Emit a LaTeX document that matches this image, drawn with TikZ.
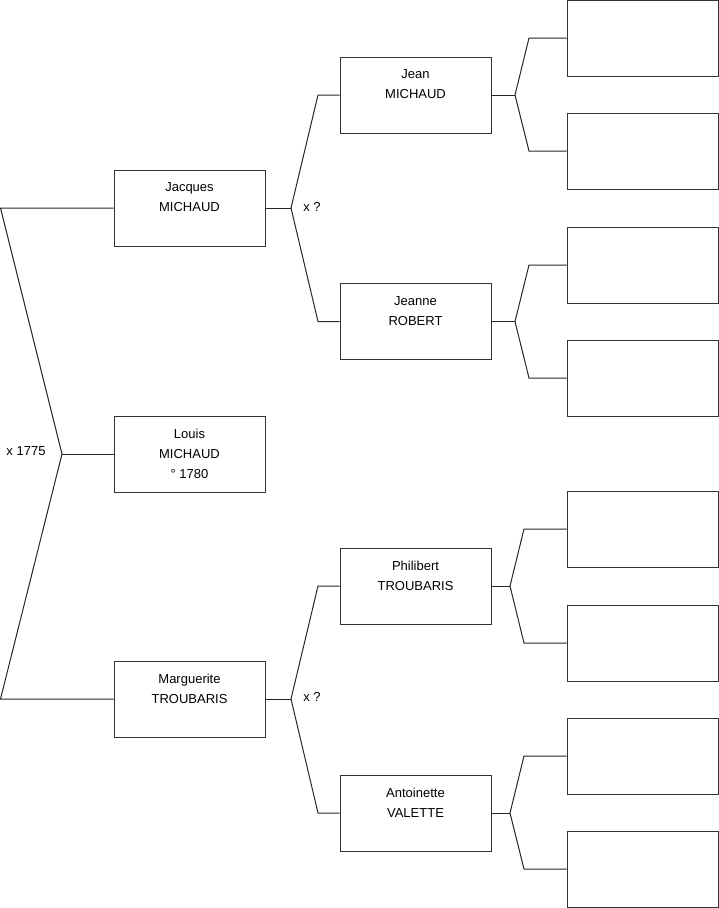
\documentclass[tikz,border=0pt]{standalone}
\usepackage{fontspec}
\setmainfont{Liberation Sans}
\begin{document}
\begin{tikzpicture}[x=1pt,y=-1pt,
  person/.style={draw=black!80, line width=1pt, rectangle, minimum width=151pt, minimum height=76pt, inner sep=0pt},
  txt/.style={anchor=north, align=center, inner sep=0pt, font=\fontsize{13}{20}\selectfont},
  lbl/.style={inner sep=0pt, font=\fontsize{13}{14}\selectfont},
  link/.style={draw=black!85, line width=1pt}]
\useasboundingbox (0,0) rectangle (719,908);
% boxes
\node[person] (jacques) at (189.5,208) {};
\node[person] (louis) at (189.5,454) {};
\node[person] (marguerite) at (189.5,699) {};
\node[person] (jean) at (415.5,95) {};
\node[person] (jeanne) at (415.5,321.5) {};
\node[person] (philibert) at (415.5,586) {};
\node[person] (antoinette) at (415.5,813) {};
\node[person] (r1) at (642.5,38) {};
\node[person] (r2) at (642.5,151) {};
\node[person] (r3) at (642.5,265) {};
\node[person] (r4) at (642.5,378) {};
\node[person] (r5) at (642.5,529) {};
\node[person] (r6) at (642.5,643) {};
\node[person] (r7) at (642.5,756) {};
\node[person] (r8) at (642.5,869) {};
% texts
\node[txt] (tjacques) at ([yshift=-13pt]jacques.north) {Jacques\\MICHAUD};
\node[txt] (tlouis) at ([yshift=-13pt]louis.north) {Louis\\MICHAUD\\° 1780};
\node[txt] (tmarguerite) at ([yshift=-13pt]marguerite.north) {Marguerite\\TROUBARIS};
\node[txt] (tjean) at ([yshift=-13pt]jean.north) {Jean\\MICHAUD};
\node[txt] (tjeanne) at ([yshift=-13pt]jeanne.north) {Jeanne\\ROBERT};
\node[txt] (tphilibert) at ([yshift=-13pt]philibert.north) {Philibert\\TROUBARIS};
\node[txt] (tantoinette) at ([yshift=-13pt]antoinette.north) {Antoinette\\VALETTE};
% labels
\node[lbl] (m1) at (26,451) {x 1775};
\node[lbl] (m2) at (312,207) {x ?};
\node[lbl] (m3) at (312,697) {x ?};
% junctions
\coordinate (jT) at (0.5,208);
\coordinate (jL) at (62,454);
\coordinate (jB) at (0.5,699);
\coordinate (a1) at (291,208);
\coordinate (a1u) at (318,95);
\coordinate (a1d) at (318,321.5);
\coordinate (a2) at (291,699);
\coordinate (a2u) at (318,586);
\coordinate (a2d) at (318,813);
\coordinate (b1) at (515,95);
\coordinate (b1u) at (529,38);
\coordinate (b1d) at (529,151);
\coordinate (b2) at (515,321.5);
\coordinate (b2u) at (529,265);
\coordinate (b2d) at (529,378);
\coordinate (b3) at (510,586);
\coordinate (b3u) at (524,529);
\coordinate (b3d) at (524,643);
\coordinate (b4) at (510,813);
\coordinate (b4u) at (524,756);
\coordinate (b4d) at (524,869);
% connectors
\draw[link] (louis.west) -- (jL);
\draw[link] (jacques.west) -- (jT) -- (jL) -- (jB) -- (marguerite.west);
\draw[link] (jacques.east) -- (a1);
\draw[link] (jean.west) -- (a1u) -- (a1) -- (a1d) -- (jeanne.west);
\draw[link] (marguerite.east) -- (a2);
\draw[link] (philibert.west) -- (a2u) -- (a2) -- (a2d) -- (antoinette.west);
\draw[link] (jean.east) -- (b1);
\draw[link] (r1.west) -- (b1u) -- (b1) -- (b1d) -- (r2.west);
\draw[link] (jeanne.east) -- (b2);
\draw[link] (r3.west) -- (b2u) -- (b2) -- (b2d) -- (r4.west);
\draw[link] (philibert.east) -- (b3);
\draw[link] (r5.west) -- (b3u) -- (b3) -- (b3d) -- (r6.west);
\draw[link] (antoinette.east) -- (b4);
\draw[link] (r7.west) -- (b4u) -- (b4) -- (b4d) -- (r8.west);
\end{tikzpicture}
\end{document}
